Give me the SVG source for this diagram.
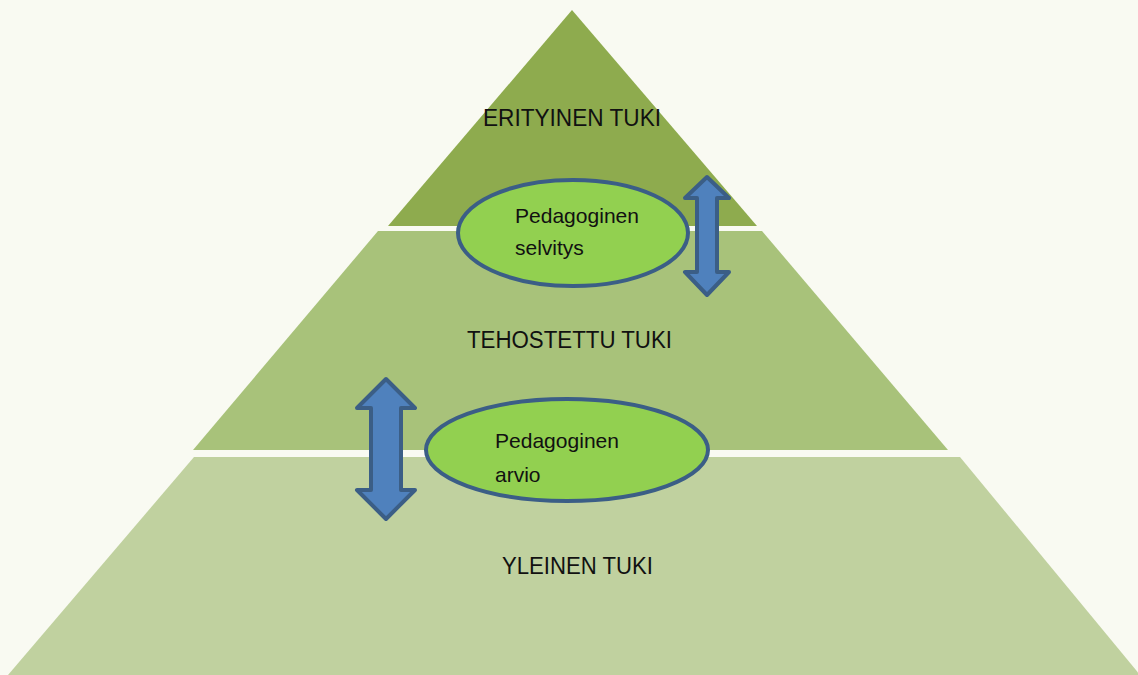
<svg xmlns="http://www.w3.org/2000/svg" width="1138" height="675" viewBox="0 0 1138 675">
  <style>
    .lbl { font-family: "Liberation Sans", Arial, sans-serif; fill: #111; }
    .big { font-size: 23px; }
    .small { font-size: 21px; }
    .oval { fill: #92d050; stroke: #3b5e86; stroke-width: 4; }
    .arr { fill: #4f81bd; stroke: #3b5e86; stroke-width: 4; stroke-linejoin: round; }
  </style>
  <rect width="1138" height="675" fill="#f9faf2"/>
  <g id="tier-bottom">
    <polygon points="194,457 960,457 1140,675 8,675" fill="#c0d19f"/>
    <text class="lbl big" x="502" y="574" textLength="151" lengthAdjust="spacingAndGlyphs">YLEINEN TUKI</text>
  </g>
  <g id="tier-middle">
    <polygon points="378,231 762,231 948,450 193,450" fill="#a8c27a"/>
    <text class="lbl big" x="467" y="348" textLength="205" lengthAdjust="spacingAndGlyphs">TEHOSTETTU TUKI</text>
  </g>
  <g id="tier-top">
    <polygon points="572,10 757,226 388,226" fill="#8eab4e"/>
    <text class="lbl big" x="483" y="126" textLength="178" lengthAdjust="spacingAndGlyphs">ERITYINEN TUKI</text>
  </g>
  <g id="connectors">
    <path class="arr" d="M707,177 L729,198 L717,198 L717,272 L729,272 L707,295 L685,272 L697,272 L697,198 L685,198 Z"/>
    <path class="arr" d="M386,379 L415,408 L401,408 L401,490 L415,490 L386,519 L357,490 L371,490 L371,408 L357,408 Z"/>
  </g>
  <g id="oval-selvitys">
    <ellipse class="oval" cx="573" cy="233" rx="115" ry="53"/>
    <text class="lbl small" x="515" y="223" textLength="124" lengthAdjust="spacingAndGlyphs">Pedagoginen</text>
    <text class="lbl small" x="515" y="255">selvitys</text>
  </g>
  <g id="oval-arvio">
    <ellipse class="oval" cx="567" cy="450" rx="141" ry="51"/>
    <text class="lbl small" x="495" y="448" textLength="124" lengthAdjust="spacingAndGlyphs">Pedagoginen</text>
    <text class="lbl small" x="495" y="482">arvio</text>
  </g>
</svg>
